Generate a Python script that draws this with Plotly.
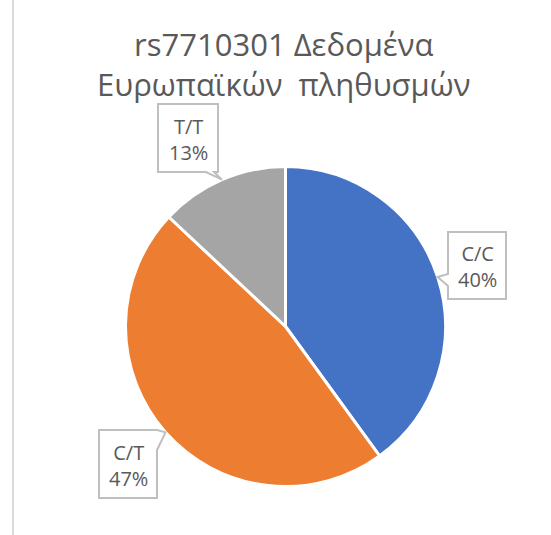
import math
import plotly.graph_objects as go

# ---- data ----
categories = ["C/C", "C/T", "T/T"]
values = [40, 47, 13]
colors = ["#4472C4", "#ED7D31", "#A5A5A5"]
title_lines = ["rs7710301 Δεδομένα", "Ευρωπαϊκών\u00a0\u00a0πληθυσμών"]

W, H = 551, 535
CX, CY, R = 285.5, 326.5, 160.0
FONT = "Open Sans"
TXT = "#595959"
BORDER = "#BFBFBF"

fig = go.Figure()
fig.add_trace(go.Pie(
    labels=categories, values=values, sort=False, direction="clockwise",
    rotation=0, marker=dict(colors=colors, line=dict(color="white", width=3)),
    textinfo="none", hoverinfo="label+percent", showlegend=False,
    domain=dict(x=[(CX - R) / W, (CX + R) / W], y=[1 - (CY + R) / H, 1 - (CY - R) / H]),
))

# invisible pixel axes for callouts
fig.update_xaxes(range=[0, W], visible=False, fixedrange=True)
fig.update_yaxes(range=[H, 0], visible=False, fixedrange=True)

# callout box layout (center x, center y, width, height, pointer side, base start, base end)
boxes = {
    "C/C": (477, 265.5, 58, 67, "left", 274, 286),
    "C/T": (128, 464, 58, 68, "right", 430, 450),
    "T/T": (188, 138, 60, 68, "bottom", 206, 214),
}

total = sum(values)
cum = 0.0
shapes = []
annotations = []
for cat, v in zip(categories, values):
    mid = (cum + v / 2) / total * 2 * math.pi
    cum += v
    tx = CX + R * math.sin(mid)
    ty = CY - R * math.cos(mid)
    bx, by, bw, bh, side, b0, b1 = boxes[cat]
    x0, x1, y0, y1 = bx - bw / 2, bx + bw / 2, by - bh / 2, by + bh / 2
    if side == "left":
        pts = [(x0, y0), (x1, y0), (x1, y1), (x0, y1), (x0, b1), (tx, ty), (x0, b0)]
    elif side == "right":
        pts = [(x0, y0), (x1, y0), (tx, ty), (x1, b1), (x1, y1), (x0, y1)]
    else:  # bottom
        pts = [(x0, y0), (x1, y0), (x1, y1), (b1, y1), (tx, ty), (b0, y1), (x0, y1)]
    path = "M " + " L ".join(f"{px:.2f},{py:.2f}" for px, py in pts) + " Z"
    shapes.append(dict(type="path", path=path, xref="x", yref="y",
                       line=dict(color=BORDER, width=2), fillcolor="white", layer="above"))
    pct = round(v / total * 100)
    annotations.append(dict(x=bx, y=by + 1, xref="x", yref="y", showarrow=False,
                            text=f"{cat}<br>{pct}%", align="center",
                            font=dict(family=FONT, size=20, color=TXT)))

# left chart border line
shapes.append(dict(type="line", xref="x", yref="y", x0=13, x1=13, y0=0, y1=H,
                   line=dict(color="#D9D9D9", width=2), layer="below"))

annotations.append(dict(x=283, y=64, xref="x", yref="y", showarrow=False,
                        text="<br>".join(title_lines), align="center",
                        font=dict(family=FONT, size=31, color=TXT)))

fig.update_layout(
    width=W, height=H, margin=dict(l=0, r=0, t=0, b=0),
    paper_bgcolor="white", plot_bgcolor="rgba(0,0,0,0)",
    shapes=shapes, annotations=annotations,
)
fig.write_html("out.html", config={"displayModeBar": False},
               post_script="document.body.style.margin='0';document.body.style.overflow='hidden';")
